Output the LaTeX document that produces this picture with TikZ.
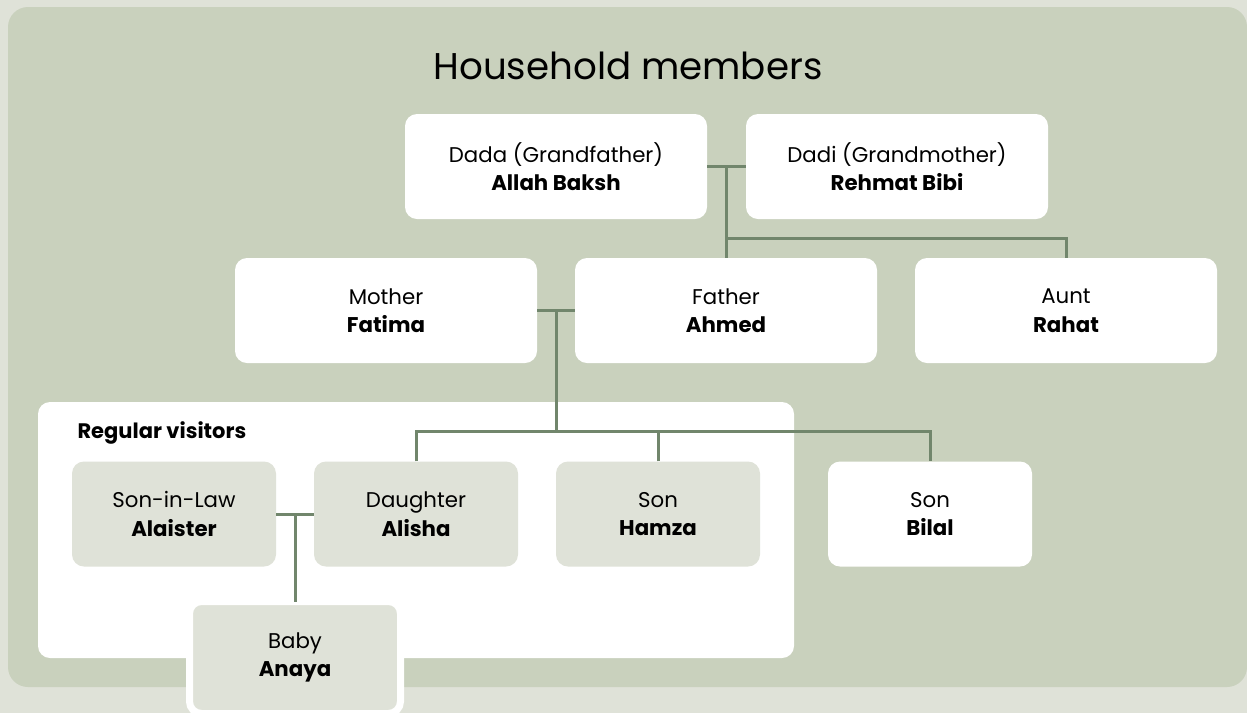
\documentclass[tikz,border=0pt]{standalone}
\usepackage{fontspec}
\setmainfont{Poppins}
\definecolor{pagebg}{HTML}{DFE2D8}
\definecolor{panelbg}{HTML}{C9D1BD}
\definecolor{visitorbg}{HTML}{DFE2D8}
\definecolor{linkgreen}{HTML}{71866C}
\begin{document}
\begin{tikzpicture}[x=1pt, y=-1pt,
  box/.style={fill=#1, rounded corners=12pt, minimum width=302pt,
              minimum height=105pt, inner sep=0pt, align=center,
              font=\fontsize{21.3}{28.5}\selectfont},
  box/.default=white,
  kid/.style={box=#1, minimum width=204pt},
  kid/.default=visitorbg,
  line/.style={draw=linkgreen, line width=3pt}
]
\useasboundingbox (0,0) rectangle (1247,713);
\fill[pagebg] (0,0) rectangle (1247,713);
\fill[panelbg, rounded corners=20pt] (8,7) rectangle (1247,687);
\node[font=\fontsize{37.2}{42}\selectfont] (title) at (628,66) {Household members};
\node[fill=white, rounded corners=12pt, minimum width=756pt, minimum height=256pt,
      inner sep=0pt] (visitors) at (416,530) {};
\node[anchor=west, font=\fontsize{21}{26}\selectfont\bfseries] (vislabel) at (74,433) {Regular visitors};
\node[box]  (dada)   at (556,166.5)  {Dada (Grandfather)\\\textbf{Allah Baksh}};
\node[box]  (dadi)   at (897,166.5)  {Dadi (Grandmother)\\\textbf{Rehmat Bibi}};
\node[box]  (mother) at (386,310.5)  {Mother\\\textbf{Fatima}};
\node[box]  (father) at (726,310.5)  {Father\\\textbf{Ahmed}};
\node[box]  (aunt)   at (1066,310.5) {Aunt\\\textbf{Rahat}};
\node[kid]  (inlaw)  at (174,514)    {Son-in-Law\\\textbf{Alaister}};
\node[kid]  (alisha) at (416,514)    {Daughter\\\textbf{Alisha}};
\node[kid]  (hamza)  at (658,514)    {Son\\\textbf{Hamza}};
\node[kid=white] (bilal) at (930,514) {Son\\\textbf{Bilal}};
\node[kid, draw=white, line width=7pt, minimum width=211pt, minimum height=112pt]
      (baby) at (295,657.5) {Baby\\\textbf{Anaya}};
\coordinate (gp)    at (726,166.5);
\coordinate (gpbar) at (726,238);
\coordinate (pm)    at (556,310.5);
\coordinate (pmbar) at (556,431);
\coordinate (cp)    at (295,514);
\draw[line](dada)--(dadi);     \draw[line](gp)--(father.north);
\draw[line](gpbar)-|(aunt.north);
\draw[line](mother)--(father); \draw[line](pm)--(pmbar);
\draw[line](alisha.north)|-(bilal.north |- pmbar)--(bilal.north);
\draw[line](hamza.north)--(hamza.north |- pmbar);
\draw[line](inlaw)--(alisha);  \draw[line, shorten >=-3.5pt](cp)--(baby.north);
\end{tikzpicture}
\end{document}
